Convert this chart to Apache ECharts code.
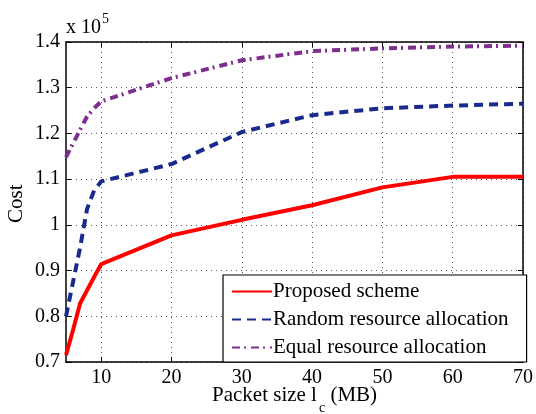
<!DOCTYPE html>
<html>
<head>
<meta charset="utf-8">
<script src="https://cdn.jsdelivr.net/npm/echarts@6/dist/echarts.min.js"></script>
<style>html,body{margin:0;padding:0;background:#fff;}#c{width:536px;height:414px;}</style>
</head>
<body>
<div id="c"></div>
<script>
const xValues = [5, 6, 7, 8, 9, 10, 20, 30, 40, 50, 60, 70];
const proposed = [0.715, 0.77, 0.828, 0.857, 0.886, 0.914, 0.977, 1.011, 1.043, 1.082, 1.105, 1.105];
const randomAlloc = [0.80, 0.875, 0.95, 1.035, 1.075, 1.095, 1.133, 1.203, 1.240, 1.255, 1.261, 1.265];
const equalAlloc = [1.148, 1.178, 1.208, 1.237, 1.255, 1.27, 1.321, 1.360, 1.380, 1.386, 1.390, 1.392];
const xTicks = [10, 20, 30, 40, 50, 60, 70];
const seriesNames = ['Proposed scheme', 'Random resource allocation', 'Equal resource allocation'];

const FONT = 'Liberation Serif';
const chart = echarts.init(document.getElementById('c'), null, {renderer: 'canvas'});
const pair = (ys) => xValues.map((x, i) => [x, ys[i]]);

const gridLine = {show: true, lineStyle: {color: '#555', type: [1, 4], width: 1}};
const baseX = {
  type: 'value', min: 5, max: 70,
  axisLine: {show: true, onZero: false, lineStyle: {color: '#000', width: 1.5}},
  axisTick: {show: true, inside: true, length: 5, customValues: xTicks, lineStyle: {color: '#000'}},
  axisLabel: {show: true, customValues: xTicks, color: '#000', fontFamily: FONT, fontSize: 20, margin: 6},
  splitLine: gridLine
};
const baseY = {
  type: 'value', min: 0.7, max: 1.4, interval: 0.1,
  axisLine: {show: true, onZero: false, lineStyle: {color: '#000', width: 1.5}},
  axisTick: {show: true, inside: true, length: 5, lineStyle: {color: '#000'}},
  axisLabel: {show: true, color: '#000', fontFamily: FONT, fontSize: 20, margin: 6,
    formatter: v => { const r = Math.round(v * 10) / 10; return r === 1 ? '1' : r.toFixed(1); }},
  splitLine: gridLine
};

chart.setOption({
  animation: false,
  textStyle: {fontFamily: FONT},
  grid: {left: 66, right: 12, top: 42, bottom: 52, show: false},
  xAxis: [
    Object.assign({}, baseX, {position: 'bottom'}),
    Object.assign({}, baseX, {position: 'top', axisLabel: {show: false, customValues: xTicks}, splitLine: {show: false}})
  ],
  yAxis: [
    Object.assign({}, baseY, {position: 'left'}),
    Object.assign({}, baseY, {position: 'right', axisLabel: {show: false}, splitLine: {show: false}})
  ],
  legend: {
    left: 223, top: 275, orient: 'vertical',
    data: seriesNames,
    backgroundColor: '#fff', borderColor: '#000', borderWidth: 1.2,
    padding: [6, 18, 4, 8], itemGap: 7, itemWidth: 40, itemHeight: 14,
    itemStyle: {opacity: 0, borderWidth: 0},
    textStyle: {fontFamily: FONT, fontSize: 21, color: '#000', padding: [0, 0, 0, -4]}
  },
  graphic: [
    {type: 'text', left: 66, top: 12, style: {
      text: '{a|x 10}{s|5}', rich: {
        a: {fontFamily: FONT, fontSize: 20, fill: '#000', verticalAlign: 'bottom', lineHeight: 26},
        s: {fontFamily: FONT, fontSize: 14, fill: '#000', verticalAlign: 'top', padding: [0, 0, 12, 1]}
      }}},
    {type: 'text', left: 212, top: 385, style: {
      text: '{a|Packet size l}{s|c}{a| (MB)}', rich: {
        a: {fontFamily: FONT, fontSize: 21, fill: '#000', verticalAlign: 'top', lineHeight: 24},
        s: {fontFamily: FONT, fontSize: 14, fill: '#000', padding: [16, 0, 0, 2]}
      }}},
    {type: 'text', x: 6, y: 223, rotation: Math.PI / 2, style: {
      text: 'Cost', fontFamily: FONT, fontSize: 21, fill: '#000'}}
  ],
  series: [
    {name: seriesNames[0], type: 'line', data: pair(proposed), symbol: 'none', z: 5,
      lineStyle: {color: '#ff0000', width: 4}, itemStyle: {color: '#ff0000'}},
    {name: seriesNames[1], type: 'line', data: pair(randomAlloc), symbol: 'none', z: 4,
      lineStyle: {color: '#1a2a8c', width: 4, type: [9, 6]}, itemStyle: {color: '#1a2a8c'}},
    {name: seriesNames[2], type: 'line', data: pair(equalAlloc), symbol: 'none', z: 3,
      lineStyle: {color: '#7e2f8e', width: 4, type: [8, 4, 2, 5]}, itemStyle: {color: '#7e2f8e'}}
  ]
});
</script>
</body>
</html>
